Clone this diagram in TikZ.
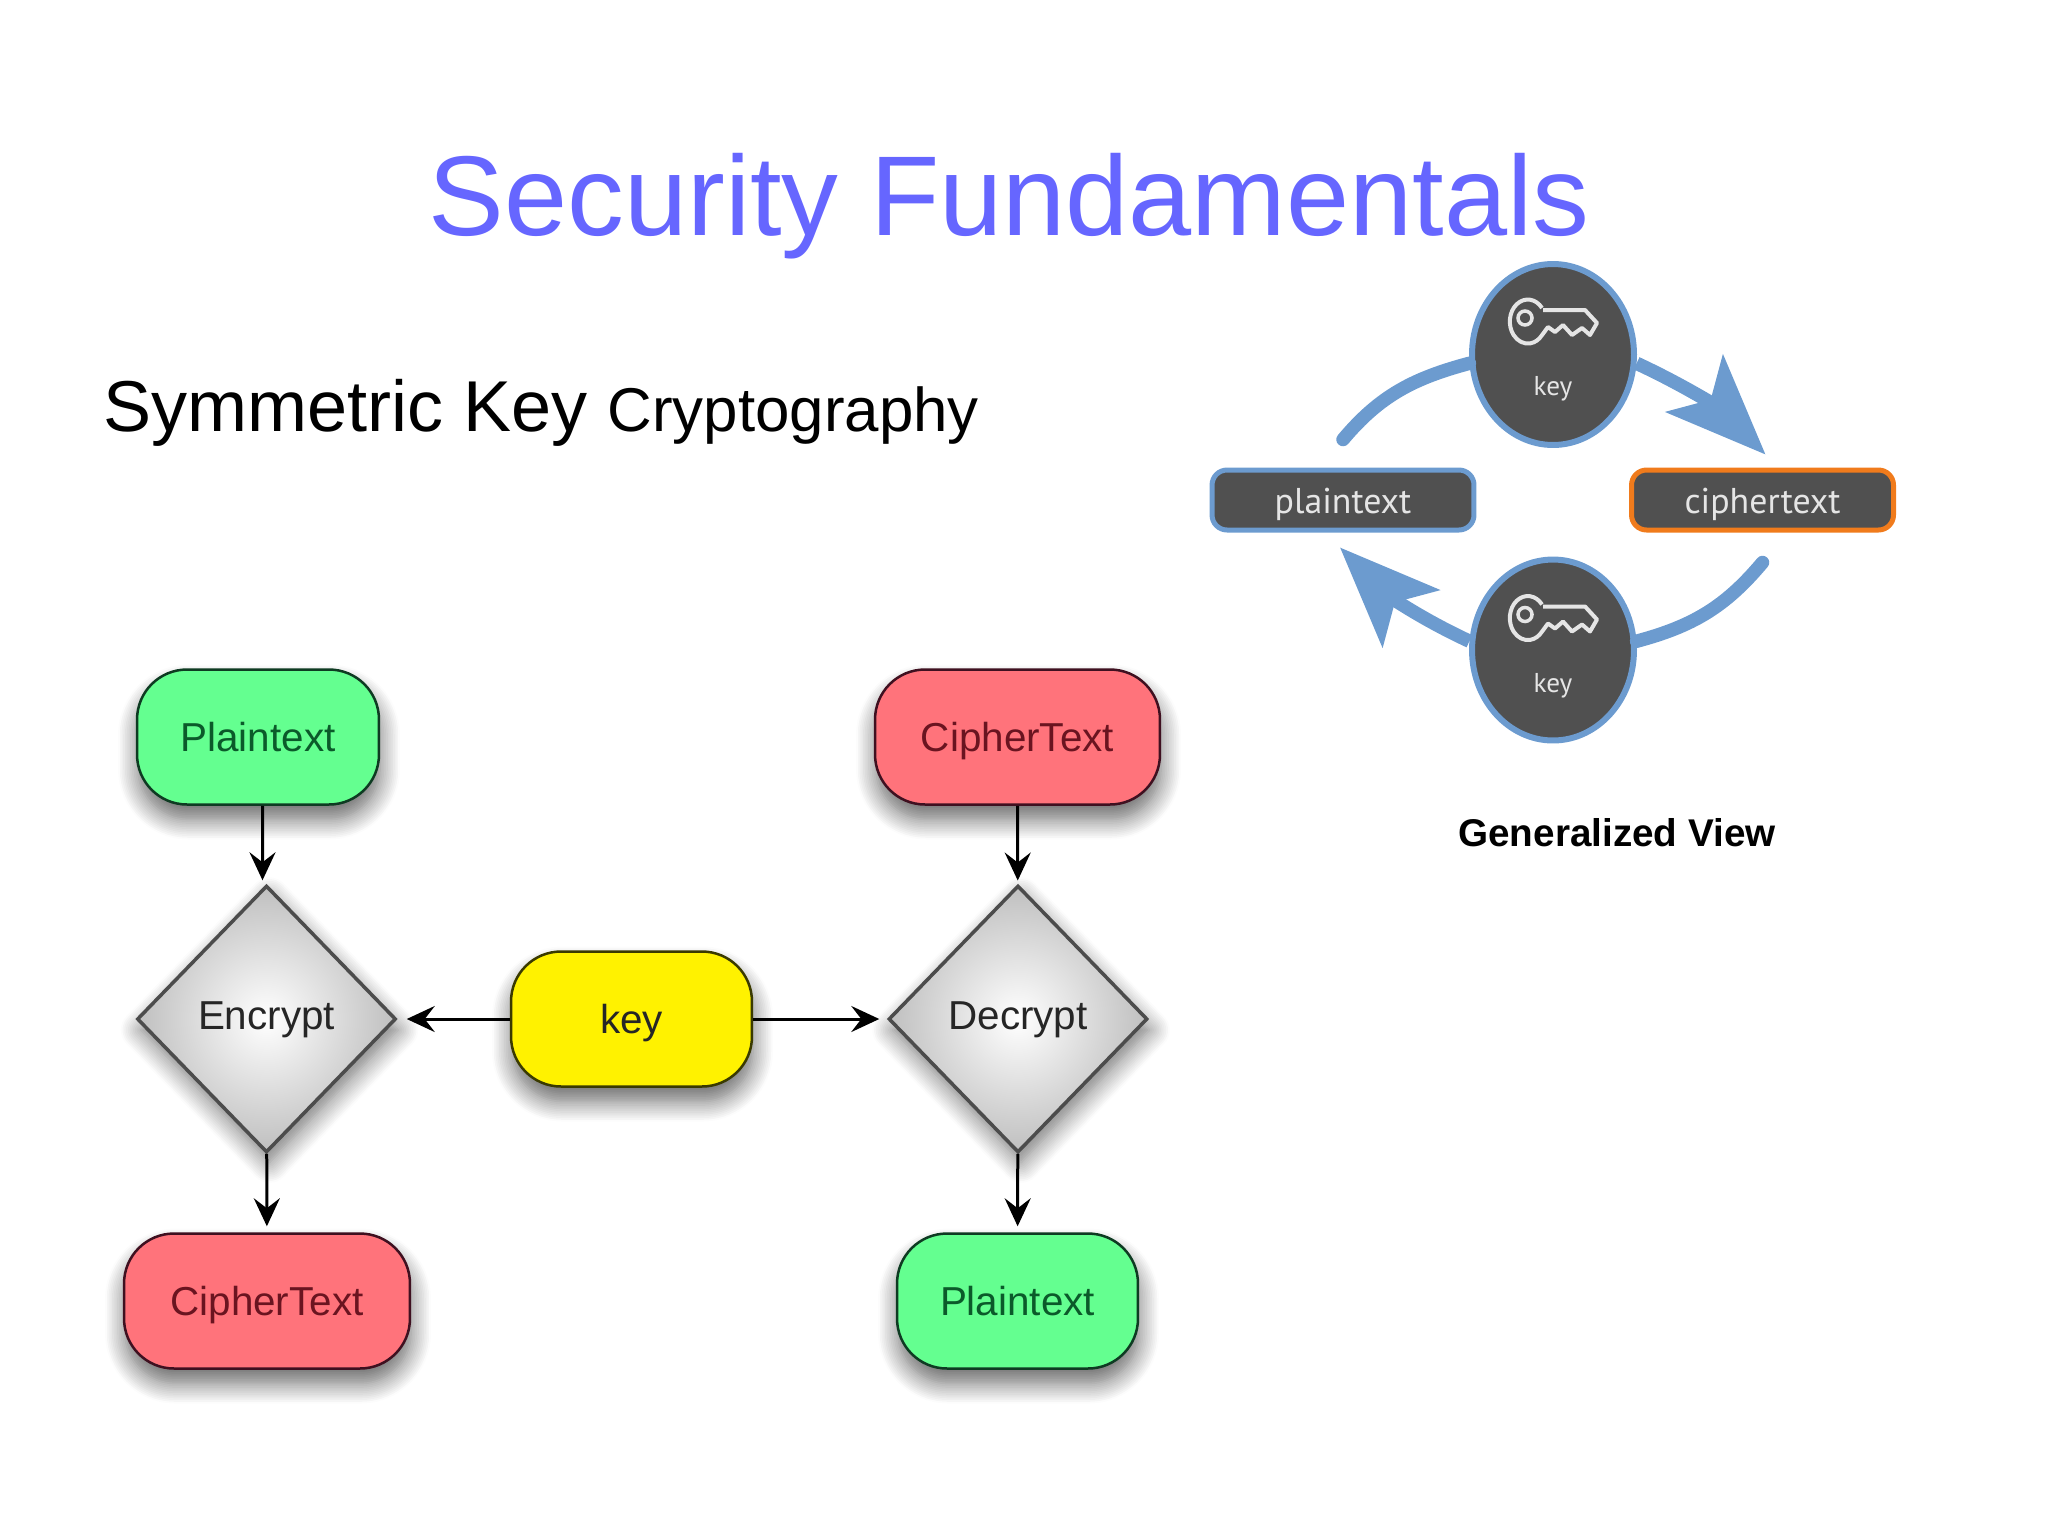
\documentclass[tikz,border=0pt]{standalone}
\usepackage{fontspec}
\setmainfont{Liberation Sans}
\newfontfamily\slidefont{PT Sans}
\usetikzlibrary{shapes.geometric,arrows.meta,shadows.blur}

\definecolor{titleblue}{HTML}{6666FF}
\definecolor{arcblue}{HTML}{6C9BCF}
\definecolor{slategray}{HTML}{505050}
\definecolor{arcorange}{HTML}{F07B1C}
\definecolor{plaingreen}{HTML}{64FF90}
\definecolor{plainedge}{HTML}{0E3B22}
\definecolor{plainink}{HTML}{0B5A2A}
\definecolor{cipherred}{HTML}{FF737B}
\definecolor{cipheredge}{HTML}{3F1020}
\definecolor{cipherink}{HTML}{6A1420}
\definecolor{keyyellow}{HTML}{FFF200}
\definecolor{keyedge}{HTML}{3A3A00}

\tikzset{
  boxed/.style={draw, rounded corners=1cm, line width=0.05cm, minimum height=2.7cm,
    blur shadow={shadow xshift=0.02cm, shadow yshift=-0.3cm, shadow blur steps=12, shadow blur radius=0.4cm, shadow opacity=60},
    font=\fontsize{23}{28}\selectfont, text height=0.57cm, text depth=0pt},
  greenbox/.style={boxed, fill=plaingreen, draw=plainedge, text=plainink},
  redbox/.style={boxed, fill=cipherred, draw=cipheredge, text=cipherink},
  yellowbox/.style={boxed, fill=keyyellow, draw=keyedge, text=black!85},
  decision/.style={diamond, draw=black!70, line width=0.07cm, inner color=white, outer color=black!25,
    minimum width=5.18cm, minimum height=5.34cm, inner sep=0pt, aspect=1,
    blur shadow={shadow xshift=0.06cm, shadow yshift=-0.22cm, shadow blur steps=12, shadow blur radius=0.4cm, shadow opacity=55},
    font=\fontsize{23}{28}\selectfont, text=black!85, text height=0.57cm, text depth=0.14cm},
  flow/.style={line width=0.06cm, -{Stealth[length=0.56cm, width=0.52cm, inset=0.2cm]}},
  keyround/.style={ellipse, fill=slategray, draw=arcblue, line width=0.12cm, minimum width=3.24cm, minimum height=3.62cm, inner sep=0pt},
  keylabel/.style={font=\slidefont\fontsize{15.5}{20}\selectfont, text=white!90!black},
  textbar/.style={rectangle, rounded corners=0.3cm, fill=slategray, line width=0.1cm, minimum width=5.24cm, minimum height=1.2cm,
    inner sep=0pt, text=white!90!black, font=\slidefont\fontsize{20.4}{26}\selectfont, text height=0.56cm, text depth=0.04cm},
  cycle/.style={draw=arcblue, line width=0.27cm, line cap=round},
  cycletip/.style={cycle, line cap=butt, -{Stealth[length=2cm, width=1.6cm, inset=0.45cm]}},
  keyicon/.pic={
    \draw[white!90!black, line width=0.08cm, line join=round]
      (42,18) arc[start angle=-38, end angle=-322, x radius=18, y radius=22]
      -- (48,37) -- (55,42) -- (63,35) -- (72,45) -- (82,38) -- (90,45) -- (97,33) -- (85,20) -- (43,20);
    \draw[white!90!black, line width=0.07cm] (25,28) circle[x radius=7, y radius=7];
  }
}

\begin{document}
\begin{tikzpicture}[x=0.02cm, y=-0.02cm]
\useasboundingbox (0,0) rectangle (2048,1539);

\node[anchor=base, text=titleblue, font=\fontsize{64.6}{76}\selectfont] at (1009,235) (title) {Security Fundamentals};
\node[anchor=base west, inner sep=0pt] at (103,431) (heading) {\fontsize{41}{50}\selectfont Symmetric Key \fontsize{35.2}{42}\selectfont Cryptography};
\node[font=\fontsize{22}{28}\selectfont\bfseries] at (1617,833) (caption) {Generalized View};

% symmetric flow
\node[greenbox, minimum width=4.84cm] at (258,737) (plainA) {Plaintext};
\node[redbox, minimum width=5.7cm] at (1017.5,737) (cipherA) {CipherText};
\node[decision] at (266.5,1019) (encrypt) {Encrypt};
\node[decision] at (1018,1019) (decrypt) {Decrypt};
\node[yellowbox, minimum width=4.82cm] at (631.5,1019) (key) {key};
\node[redbox, minimum width=5.72cm] at (267,1301) (cipherB) {CipherText};
\node[greenbox, minimum width=4.82cm] at (1017.5,1301) (plainB) {Plaintext};

\draw[flow, shorten >=0.07cm] ([xshift=0.09cm]plainA.south) -- ([xshift=-0.08cm]encrypt.north);
\draw[flow, shorten >=0.07cm] (cipherA) -- (decrypt);
\draw[flow, shorten >=0.12cm] (encrypt) -- (cipherB);
\draw[flow, shorten >=0.12cm] (decrypt) -- (plainB);
\draw[flow, shorten >=0.18cm] (key) -- (encrypt);
\draw[flow, shorten >=0.15cm] (key) -- (decrypt);

% generalized view
\node[keyround] at (1553,354.5) (keyA) {};
\node[keyround] at (1553,650) (keyB) {};
\node[textbar, draw=arcblue] at (1343,500) (plaintext) {plaintext};
\node[textbar, draw=arcorange] at (1762.5,500) (ciphertext) {ciphertext};
\node[keylabel] at (1553,389) (labelA) {key};
\node[keylabel] at (1553,686) (labelB) {key};
\pic at (1500,290) {keyicon};
\pic at (1500,586.5) {keyicon};

\draw[cycle] ([yshift=0.56cm]plaintext.north) to[out=50, in=195] (keyA.186);
\draw[cycletip] (keyA.-6) to[out=-25, in=135] ([xshift=0.06cm, yshift=0.26cm]ciphertext.north);
\draw[cycle] ([yshift=-0.6cm]ciphertext.south) to[out=-130, in=15] (keyB.6);
\draw[cycletip] (keyB.174) to[out=155, in=-45] ([xshift=-0.06cm, yshift=-0.3cm]plaintext.south);

\end{tikzpicture}
\end{document}
